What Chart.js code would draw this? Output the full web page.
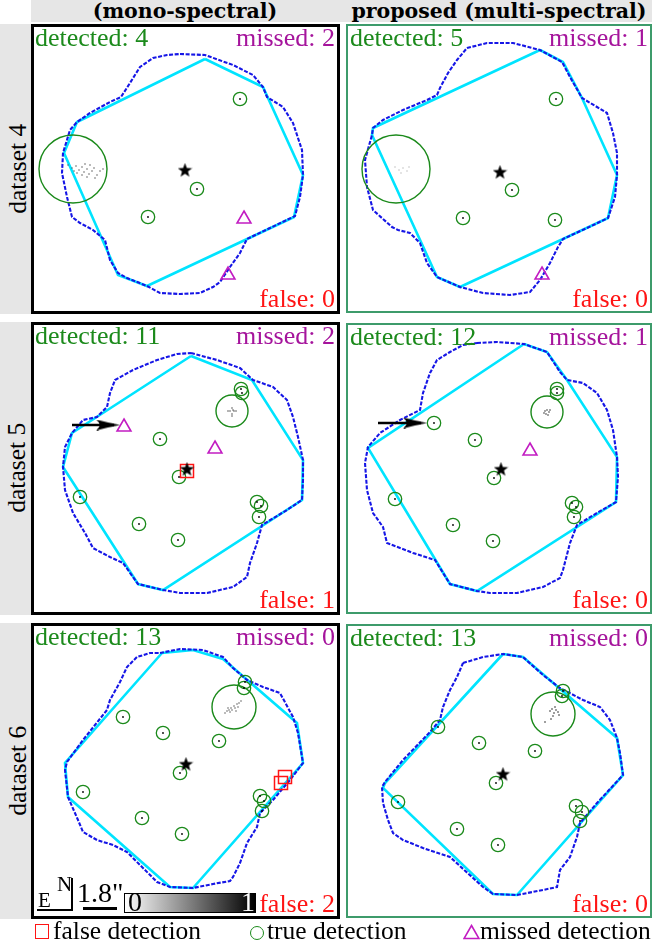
<!DOCTYPE html>
<html><head><meta charset="utf-8">
<script src="https://cdn.jsdelivr.net/npm/chart.js@4.4.1/dist/chart.umd.min.js"></script>
<style>
body{margin:0;width:652px;height:946px;position:relative;overflow:hidden;background:#fff;font-family:'Liberation Serif',serif}
</style></head><body>
<script>
// ---------------- data ----------------
const columnTitles = ["(mono-spectral)", "proposed (multi-spectral)"];
const rowTitles = ["dataset 4", "dataset 5", "dataset 6"];
const detectedCounts = [[4, 5], [11, 12], [13, 13]];
const missedCounts = [[2, 1], [2, 1], [0, 0]];
const falseCounts = [[0, 0], [1, 0], [2, 0]];
const legendLabels = ["false detection", "true detection", "missed detection"];
const scaleBarLabel = '1.8"';
const colorbarTicks = ["0", "1"];

// dataset 4, mono-spectral (panel pixel units, origin top-left)
const outline4m = [[148,29],[173,30],[201,40],[221,50],[231,62],[235,72],[251,82],[261,98],[270,125],[271,150],[268,172],[263,191],[238,203],[215,214],[208,228],[198,242],[188,257],[181,262],[168,268],[148,269],[128,268],[115,261],[95,253],[86,248],[78,235],[73,215],[61,205],[48,198],[40,192],[35,172],[30,148],[31,128],[38,105],[45,97],[58,88],[78,77],[89,72],[98,58],[108,42],[121,33],[135,30]];
const cyan4m = [[173,34],[231,62],[271,150],[262,192],[115,261],[86,250],[32,128],[45,97]];
const true4m = [[208,74],[165,164],[116,192]];
const big4m = [[41,144]];
const missed4m = [[212,194],[196,250]];
const false4m = [];
const star4m = [[153,145]];
const dots4m = [[36,140],[40,143],[44,141],[47,145],[50,142],[52,147],[55,144],[57,149],[60,146],[62,143],[65,150],[50,150],[45,148],[58,140],[68,146],[53,139],[42,146],[63,153],[71,144],[55,152]];

// dataset 4, proposed
const outline4p = [[120,23],[140,18],[166,18],[193,25],[215,37],[223,52],[235,73],[250,82],[260,88],[266,108],[270,128],[270,150],[268,172],[261,193],[240,203],[216,214],[211,222],[203,238],[193,255],[183,267],[163,270],[136,268],[113,262],[90,252],[80,238],[73,218],[63,208],[51,205],[45,202],[26,185],[20,162],[18,135],[25,110],[26,103],[36,95],[56,85],[80,75],[90,70],[93,63],[101,48],[110,35]];
const cyan4p = [[193,25],[216,37],[235,73],[270,150],[261,193],[113,262],[90,252],[25,110],[26,103]];
const true4p = [[209,74],[165,165],[116,193],[208,195]];
const big4p = [[49,144]];
const missed4p = [[195,250]];
const false4p = [];
const star4p = [[153,147]];
const dots4p = [[48,142],[52,145],[56,143],[60,146],[54,148],[62,142]];

// dataset 5, mono-spectral
const outline5m = [[159,30],[185,37],[208,45],[221,57],[241,64],[255,77],[261,94],[266,114],[271,137],[271,157],[270,177],[255,187],[230,202],[225,220],[218,240],[215,254],[201,264],[175,270],[148,270],[131,267],[106,261],[91,240],[78,234],[61,225],[53,210],[41,190],[33,167],[31,144],[33,124],[40,110],[51,97],[65,94],[75,84],[78,70],[83,57],[101,47],[125,37],[145,31]];
const cyan5m = [[159,33],[220,57],[271,137],[270,177],[131,267],[106,261],[31,144],[40,110]];
const true5m = [[128,116],[147,154],[48,174],[107,201],[146,217],[209,66],[210,70],[225,179],[229,183],[227,194]];
const big5m = [[200,88]];
const missed5m = [[92,104],[183,126]];
const false5m = [[155,148]];
const star5m = [[155,146]];
const dots5m = [[196,88],[198,88],[202,88],[204,88],[200,85],[200,91],[200,93],[201,87]];
const arrow5m = [[40,102],[88,102]];

// dataset 5, proposed
const outline5p = [[130,19],[150,18],[177,20],[200,28],[213,48],[220,56],[236,59],[250,69],[260,86],[266,106],[270,133],[271,153],[269,178],[250,189],[230,201],[223,219],[216,246],[213,254],[196,263],[170,269],[143,269],[130,267],[103,260],[88,236],[66,229],[40,219],[36,203],[26,189],[20,166],[18,139],[21,123],[33,109],[53,96],[73,86],[76,69],[83,49],[90,36],[103,28],[116,21]];
const cyan5p = [[177,20],[200,28],[220,56],[270,133],[269,178],[130,267],[103,260],[21,124]];
const true5p = [[87,99],[128,116],[147,154],[48,175],[106,201],[146,217],[210,65],[210,69],[225,179],[229,183],[227,193]];
const big5p = [[200,88]];
const missed5p = [[183,127]];
const false5p = [];
const star5p = [[154,145]];
const dots5p = [[198,87],[200,86],[202,88],[199,90],[201,91],[203,86],[197,89]];
const arrow5p = [[31,99],[80,99]];

// dataset 6, mono-spectral
const outline6m = [[128,29],[148,25],[171,26],[191,33],[201,44],[215,56],[231,63],[248,69],[261,93],[266,109],[271,139],[258,156],[241,176],[228,189],[225,203],[215,219],[208,239],[201,253],[198,257],[181,260],[161,264],[138,263],[125,258],[95,228],[81,221],[65,216],[51,208],[46,196],[36,173],[33,146],[35,138],[51,116],[75,86],[78,76],[88,58],[95,43],[105,33],[118,29]];
const cyan6m = [[130,29],[161,26],[191,35],[265,99],[271,139],[161,264],[138,263],[36,173],[33,139]];
const true6m = [[91,93],[131,109],[187,117],[148,149],[51,168],[110,194],[150,210],[213,58],[212,64],[228,172],[232,177],[230,187]];
const big6m = [[202,83]];
const missed6m = [];
const false6m = [[253,153],[249,159]];
const star6m = [[154,140]];
const dots6m = [[193,89],[195,87],[197,86],[199,84],[200,86],[202,82],[203,84],[205,80],[207,79],[209,77],[196,84],[204,87],[198,88],[206,83]];

// dataset 6, proposed
const outline6p = [[116,38],[136,32],[156,29],[176,32],[196,50],[213,63],[236,75],[253,82],[263,95],[270,113],[273,128],[276,150],[250,178],[233,198],[230,212],[223,232],[213,245],[210,262],[196,265],[170,270],[146,269],[136,262],[103,232],[76,223],[56,215],[46,208],[41,195],[36,178],[35,162],[38,157],[56,135],[83,107],[93,95],[96,82],[103,65],[110,52]];
const cyan6p = [[156,29],[176,32],[270,113],[276,150],[170,270],[146,269],[36,163],[38,158]];
const true6p = [[91,102],[132,118],[188,126],[149,158],[51,177],[110,204],[151,220],[216,66],[215,71],[229,181],[235,187],[233,196]];
const big6p = [[206,89]];
const missed6p = [];
const false6p = [];
const star6p = [[156,149]];
const dots6p = [[203,86],[205,84],[207,88],[209,85],[211,87],[206,91],[204,94],[212,90],[208,82],[198,97]];

// ---------------- layout / style ----------------
const panelLeft = [32, 347];
const panelTop = [[25, 25], [323, 324], [624, 625]];
const panelW = [306, 304];
const panelH = [[287, 287], [290, 289], [293, 292]];
const bigRadius = [[34, 34], [16, 16], [22, 22]];

const panels = [
  [{outline:outline4m,cyan:cyan4m,tru:true4m,big:big4m,miss:missed4m,fal:false4m,star:star4m,dots:dots4m,dotColor:'#555'},
   {outline:outline4p,cyan:cyan4p,tru:true4p,big:big4p,miss:missed4p,fal:false4p,star:star4p,dots:dots4p,dotColor:'#bbb'}],
  [{outline:outline5m,cyan:cyan5m,tru:true5m,big:big5m,miss:missed5m,fal:false5m,star:star5m,dots:dots5m,dotColor:'#444',arrow:arrow5m},
   {outline:outline5p,cyan:cyan5p,tru:true5p,big:big5p,miss:missed5p,fal:false5p,star:star5p,dots:dots5p,dotColor:'#222',arrow:arrow5p}],
  [{outline:outline6m,cyan:cyan6m,tru:true6m,big:big6m,miss:missed6m,fal:false6m,star:star6m,dots:dots6m,dotColor:'#555'},
   {outline:outline6p,cyan:cyan6p,tru:true6p,big:big6p,miss:missed6p,fal:false6p,star:star6p,dots:dots6p,dotColor:'#111'}]
];

const GREEN = '#1b8a1b', MAG_TXT = '#a5149c', MAG = '#c21cc2', RED = '#ff1414';
const BLUE = '#1616e6', CYAN = '#00e4ff', RIGHT_BORDER = '#3d9b6b', GRAY_BG = '#e6e6e6';

function el(tag, css, html) {
  const e = document.createElement(tag);
  e.style.cssText = css;
  if (html !== undefined) e.innerHTML = html;
  document.body.appendChild(e);
  return e;
}
function text(str, o) {
  const size = o.size || 26;
  const fam = o.family || "'Liberation Serif', serif";
  let css = `position:absolute;white-space:nowrap;font-family:${fam};font-size:${size}px;line-height:${size}px;color:${o.color||'#000'};font-weight:${o.weight||'normal'};top:${o.baseline - 0.84*size}px;`;
  if (o.left !== undefined) css += `left:${o.left}px;`;
  if (o.right !== undefined) css += `right:${652 - o.right}px;text-align:right;`;
  return el('div', css, str);
}

function makeStar(size, color) {
  const c = document.createElement('canvas');
  c.width = c.height = size;
  const g = c.getContext('2d');
  g.fillStyle = color; g.beginPath();
  for (let i = 0; i < 10; i++) {
    const r = i % 2 === 0 ? size / 2 : size / 2 * 0.42;
    const a = -Math.PI / 2 + i * Math.PI / 5;
    g.lineTo(size / 2 + r * Math.cos(a), size / 2 + r * Math.sin(a) + 0.6);
  }
  g.closePath(); g.fill();
  return c;
}
function makeArrowHead(len, h) {
  const c = document.createElement('canvas');
  c.width = 2 * len; c.height = h;
  const g = c.getContext('2d');
  g.fillStyle = '#000'; g.beginPath();
  g.moveTo(len, h / 2);
  g.quadraticCurveTo(len - len * 0.45, h * 0.32, 0, 0);
  g.quadraticCurveTo(len * 0.3, h / 2, 0, h);
  g.quadraticCurveTo(len - len * 0.45, h * 0.68, len, h / 2);
  g.closePath(); g.fill();
  return c;
}
const starImg = makeStar(15, '#000');
const arrowImg = makeArrowHead(24, 11);

const pts = a => a.map(([x, y]) => ({x, y}));
const closed = a => pts(a.concat([a[0]]));

function buildPanel(r, c) {
  const p = panels[r][c];
  const L = panelLeft[c], T = panelTop[r][c], W = panelW[c], H = panelH[r][c];
  const cv = el('canvas', `position:absolute;left:${L}px;top:${T}px;width:${W}px;height:${H}px;`);
  cv.width = W; cv.height = H;
  const ds = [];
  ds.push({data: pts(p.star), pointStyle: starImg, pointRadius: 7});
  if (p.arrow) {
    ds.push({data: pts([p.arrow[1]]), pointStyle: arrowImg, pointRadius: 10});
    ds.push({data: pts([p.arrow[0], [p.arrow[1][0] - 6, p.arrow[1][1]]]), showLine: true, borderColor: '#000', borderWidth: 2.6, pointRadius: 0});
  }
  ds.push({data: pts(p.tru), pointRadius: 0.9, backgroundColor: '#000', borderWidth: 0});
  ds.push({data: pts(p.fal), pointStyle: 'rect', pointRadius: 9.2, borderColor: RED, borderWidth: 1.5, backgroundColor: 'rgba(0,0,0,0)'});
  ds.push({data: pts(p.miss), pointStyle: 'triangle', pointRadius: 8, borderColor: MAG, borderWidth: 1.6, backgroundColor: 'rgba(0,0,0,0)'});
  ds.push({data: pts(p.tru), pointStyle: 'circle', pointRadius: 6.7, borderColor: GREEN, borderWidth: 1.3, backgroundColor: 'rgba(0,0,0,0)'});
  ds.push({data: pts(p.big), pointStyle: 'circle', pointRadius: bigRadius[r][c], borderColor: GREEN, borderWidth: 1.4, backgroundColor: 'rgba(0,0,0,0)'});
  ds.push({data: pts(p.dots), pointRadius: 0.75, backgroundColor: p.dotColor, borderWidth: 0});
  ds.push({data: closed(p.outline), showLine: true, borderColor: BLUE, borderWidth: 2.1, borderDash: [4, 1.6], pointRadius: 0});
  ds.push({data: closed(p.cyan), showLine: true, borderColor: CYAN, borderWidth: 2.6, pointRadius: 0});
  new Chart(cv, {
    type: 'scatter',
    data: {datasets: ds},
    options: {
      responsive: false, animation: false, events: [],
      layout: {padding: 0, autoPadding: false},
      plugins: {legend: {display: false}, tooltip: {enabled: false}},
      elements: {line: {tension: 0}},
      scales: {
        x: {type: 'linear', min: 0, max: W, display: false},
        y: {type: 'linear', min: 0, max: H, reverse: true, display: false}
      }
    }
  });
  // frame
  const bw = c === 0 ? 3 : 2.6;
  el('div', `position:absolute;box-sizing:border-box;left:${L - bw/2}px;top:${T - bw/2}px;width:${W + bw}px;height:${H + bw}px;border:${bw}px solid ${c === 0 ? '#000' : RIGHT_BORDER};`);
  // labels
  text('detected: ' + detectedCounts[r][c], {left: L + 3, baseline: T + 21.5, color: GREEN});
  text('missed: ' + missedCounts[r][c], {right: L + W - 3, baseline: T + 21.5, color: MAG_TXT});
  text('false: ' + falseCounts[r][c], {right: L + W - 3, baseline: T + H - 4.5, color: RED});
}

// background bands
el('div', `position:absolute;left:31px;top:0;width:621px;height:22px;background:${GRAY_BG};`);
for (let c = 0; c < 2; c++) {
  const cx = panelLeft[c] + panelW[c] / 2;
  el('div', `position:absolute;left:${cx - 200}px;width:400px;text-align:center;top:${18.5 - 0.84*20.5}px;font-family:'DejaVu Serif',serif;font-weight:bold;font-size:20.5px;line-height:20.5px;white-space:nowrap;`, columnTitles[c]);
}
for (let r = 0; r < 3; r++) {
  const T = panelTop[r][0], H = panelH[r][0];
  el('div', `position:absolute;left:0;top:${T - 1.5}px;width:31px;height:${H + 3}px;background:${GRAY_BG};`);
  const size = 25.5;
  el('div', `position:absolute;left:${17.3 - H/2}px;top:${T + H/2 - size/2}px;width:${H}px;height:${size}px;line-height:${size}px;text-align:center;font-family:'Liberation Serif',serif;font-size:${size}px;white-space:nowrap;transform:rotate(-90deg);`, rowTitles[r]);
}
for (let r = 0; r < 3; r++) for (let c = 0; c < 2; c++) buildPanel(r, c);

// compass, scale bar and colour bar (dataset 6, mono panel)
text('E', {left: 38, baseline: 908, size: 21});
text('N', {left: 57, baseline: 892, size: 21});
el('div', 'position:absolute;left:70.5px;top:878px;width:2px;height:33px;background:#000;');
el('div', 'position:absolute;left:37px;top:908.5px;width:35.5px;height:2.5px;background:#000;');
text(scaleBarLabel, {left: 77, baseline: 903, size: 28});
el('div', 'position:absolute;left:83px;top:907px;width:34px;height:3px;background:#000;');
el('div', 'position:absolute;box-sizing:border-box;left:124px;top:893px;width:132px;height:20px;border:1.5px solid #000;background:linear-gradient(to right,#ffffff,#000000);');
text(colorbarTicks[0], {left: 128, baseline: 911.5, size: 28});
text(colorbarTicks[1], {left: 241, baseline: 911.5, size: 28, color: '#fff'});

// legend
el('div', `position:absolute;box-sizing:border-box;left:35px;top:924px;width:14px;height:15px;border:1.5px solid ${RED};`);
text(legendLabels[0], {left: 53, baseline: 939.5, size: 25.5});
el('div', `position:absolute;box-sizing:border-box;left:250px;top:926px;width:14px;height:14px;border-radius:50%;border:1.5px solid ${GREEN};`);
text(legendLabels[1], {left: 267, baseline: 939.5, size: 25.5});
el('div', 'position:absolute;left:463px;top:924px;width:17px;height:16px;', `<svg width="17" height="16"><polygon points="8.5,1.5 16,14.5 1,14.5" fill="none" stroke="${MAG}" stroke-width="1.6"/></svg>`);
text(legendLabels[2], {left: 480, baseline: 939.5, size: 25.5});
</script>
</body></html>
